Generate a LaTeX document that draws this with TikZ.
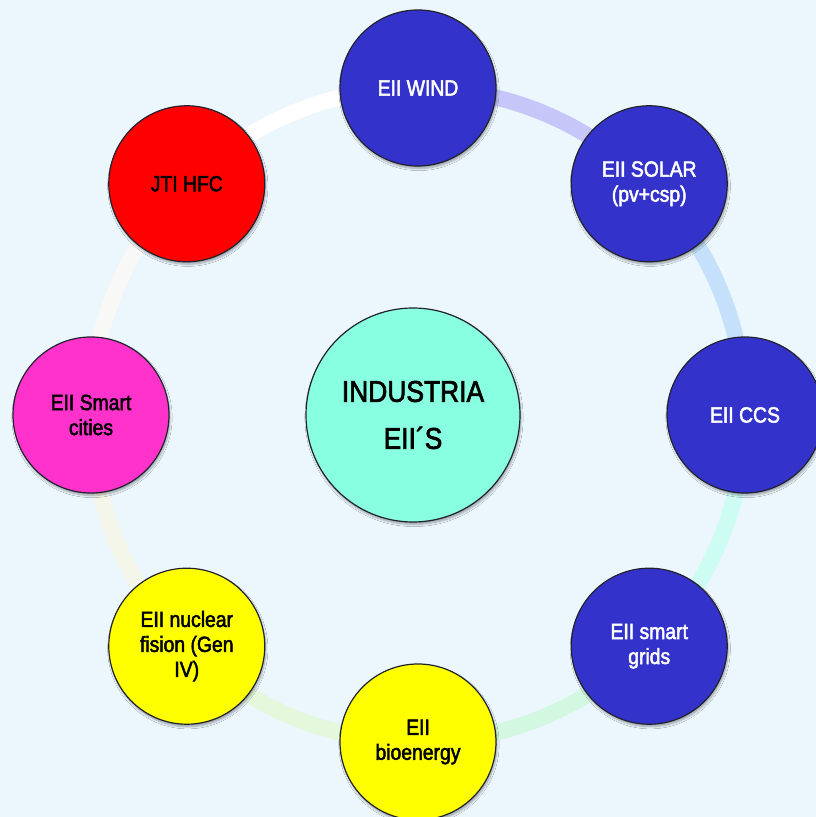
\documentclass[tikz,border=0pt]{standalone}
\usepackage{fontspec}
\setmainfont{Liberation Sans}[FakeStretch=0.88,FakeBold=2.2]
\usetikzlibrary{shadows.blur}
\definecolor{bg}{HTML}{EBF6FD}
\definecolor{eblue}{HTML}{3333CC}
\definecolor{ered}{HTML}{FF0000}
\definecolor{emag}{HTML}{FF33CC}
\definecolor{eyel}{HTML}{FFFF00}
\definecolor{eaqua}{HTML}{88FFE0}
\definecolor{rA}{HTML}{C6C6F8}
\definecolor{rB}{HTML}{C4E0FB}
\definecolor{rC}{HTML}{CCFCF2}
\definecolor{rD}{HTML}{D2F8E2}
\definecolor{rE}{HTML}{E4F8DC}
\definecolor{rF}{HTML}{F4F6EA}
\definecolor{rG}{HTML}{F8F8F6}
\definecolor{rH}{HTML}{FFFFFF}
\definecolor{edge}{HTML}{22222E}
\pgfdeclarelayer{background}
\pgfsetlayers{background,main}
\begin{document}
\begin{tikzpicture}[x=1pt,y=1pt,
  ball/.style={circle, draw=edge, line width=1.2pt, minimum size=156pt, inner sep=0pt,
    align=center, font=\fontsize{22}{25}\selectfont,
    blur shadow={shadow xshift=1pt, shadow yshift=-2.5pt, shadow opacity=35, shadow blur steps=6}},
  blueball/.style={ball, fill=eblue, text=white},
  darkball/.style={ball, text=black},
  ringseg/.style={line width=16pt}]
\useasboundingbox (0,0) rectangle (816,817);
\coordinate (c) at (418,402);
\node[ball, fill=eaqua, minimum size=214pt, font=\fontsize{30}{47}\selectfont] (hub) at (413,402) {INDUSTRIA\\EII´S};
\node[blueball] (wind) at ([shift={(90:327)}]c) {EII WIND};
\node[blueball] (solar) at ([shift={(45:327)}]c) {EII SOLAR\\(pv+csp)};
\node[blueball] (ccs) at ([shift={(0:327)}]c) {EII CCS};
\node[blueball] (grids) at ([shift={(-45:327)}]c) {EII smart\\grids};
\node[darkball, fill=eyel] (bio) at ([shift={(-90:327)}]c) {EII\\bioenergy};
\node[darkball, fill=eyel] (nuc) at ([shift={(-135:327)}]c) {EII nuclear\\fision (Gen\\IV)};
\node[darkball, fill=emag] (cities) at ([shift={(180:327)}]c) {EII Smart\\cities};
\node[darkball, fill=ered] (hfc) at ([shift={(135:327)}]c) {JTI HFC};
\begin{pgfonlayer}{background}
\fill[bg] (0,0) rectangle (816,817);
\draw[ringseg, rA] (wind.center) arc[start angle=90, end angle=45, radius=327];
\draw[ringseg, rB] (solar.center) arc[start angle=45, end angle=0, radius=327];
\draw[ringseg, rC] (ccs.center) arc[start angle=0, end angle=-45, radius=327];
\draw[ringseg, rD] (grids.center) arc[start angle=-45, end angle=-90, radius=327];
\draw[ringseg, rE] (bio.center) arc[start angle=-90, end angle=-135, radius=327];
\draw[ringseg, rF] (nuc.center) arc[start angle=-135, end angle=-180, radius=327];
\draw[ringseg, rG] (cities.center) arc[start angle=180, end angle=135, radius=327];
\draw[ringseg, rH] (hfc.center) arc[start angle=135, end angle=90, radius=327];
\end{pgfonlayer}
\end{tikzpicture}
\end{document}
